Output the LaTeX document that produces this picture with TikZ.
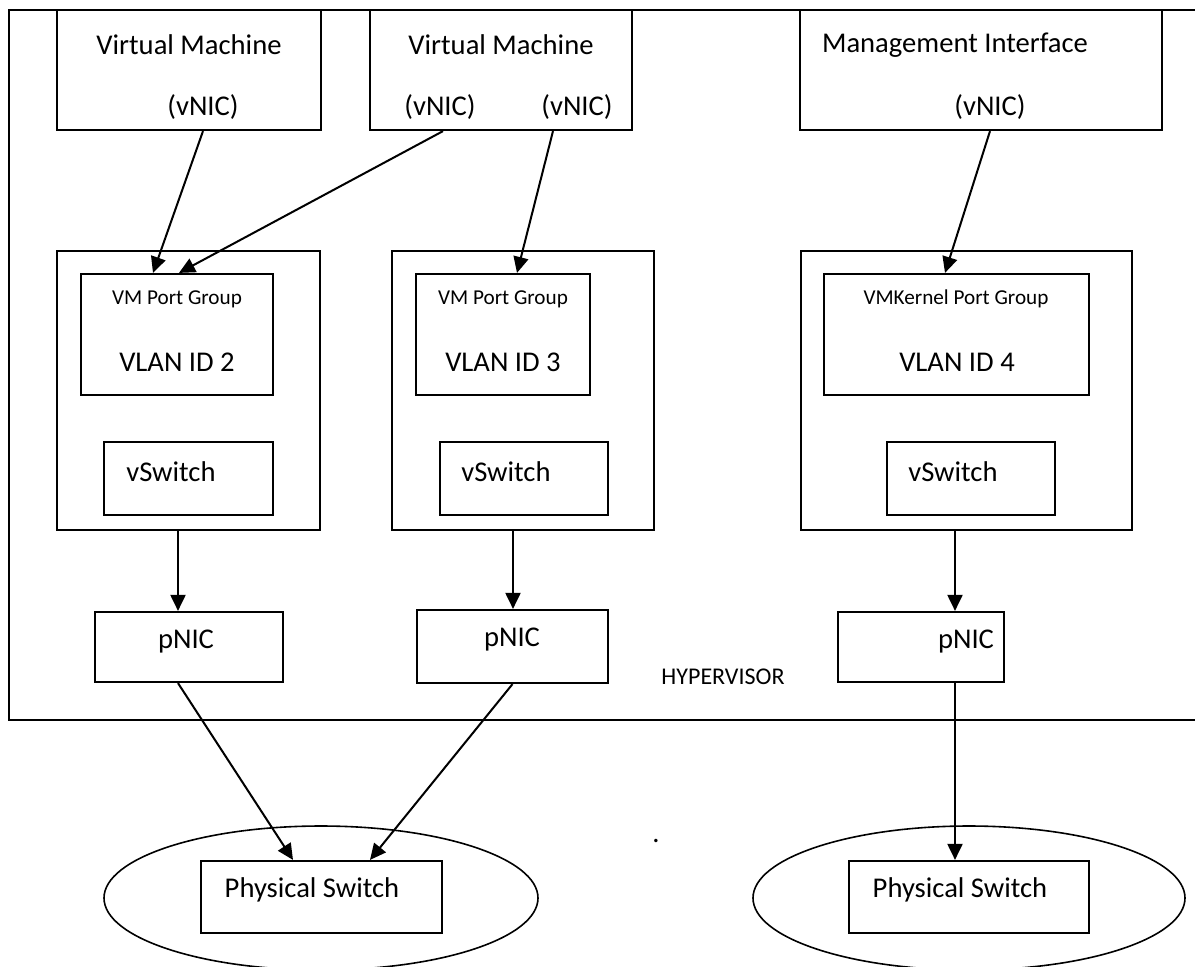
\documentclass[tikz,border=0pt]{standalone}
\usepackage{fontspec}
\setmainfont{Carlito}
\usetikzlibrary{arrows.meta,shapes.geometric}
\begin{document}
\begin{tikzpicture}[x=0.5pt,y=-0.5pt,
    box/.style={draw, line width=1.1pt, inner sep=0pt},
    txt/.style={inner sep=0pt, font=\fontsize{14.3}{17}\selectfont},
    small/.style={inner sep=0pt, font=\fontsize{10.6}{13}\selectfont},
    link/.style={line width=1pt, -{Triangle[length=8pt,width=7.5pt]}}
]
\useasboundingbox (0,0) rectangle (1195,966);

% hypervisor frame
\draw[line width=1.1pt] (1195,10) -- (9,10) -- (9,720) -- (1195,720);
\node[txt, font=\fontsize{12}{14}\selectfont] (hyp) at (723,677) {HYPERVISOR};

% virtual machines and management interface
\node[box, minimum width=132pt, minimum height=60pt] (vm1) at (189,70) {};
\node[txt] (vm1t) at (189,45) {Virtual Machine};
\node[txt] (vm1n) at (203,107) {(vNIC)};
\node[box, minimum width=131pt, minimum height=60pt] (vm2) at (501,70) {};
\node[txt] (vm2t) at (501,45) {Virtual Machine};
\node[txt] (vm2a) at (440,107) {(vNIC)};
\node[txt] (vm2b) at (577,107) {(vNIC)};
\node[box, minimum width=181pt, minimum height=60pt] (vm3) at (981,70) {};
\node[txt] (vm3t) at (955,45) {Management Interface};
\node[txt] (vm3n) at (990,107) {(vNIC)};

% port groups and vswitches
\node[box, minimum width=131.5pt, minimum height=139.5pt] (c1) at (188.5,390.5) {};
\node[box, minimum width=96pt, minimum height=60.5pt] (pg1) at (177,334.5) {};
\node[small] (pg1t) at (177,299) {VM Port Group};
\node[txt] (pg1v) at (177,362) {VLAN ID 2};
\node[box, minimum width=84.5pt, minimum height=36.5pt] (vs1) at (188.5,478.5) {};
\node[txt] (vs1t) at (171,472) {vSwitch};

\node[box, minimum width=131pt, minimum height=139.5pt] (c2) at (523,390.5) {};
\node[box, minimum width=87pt, minimum height=60.5pt] (pg2) at (503,334.5) {};
\node[small] (pg2t) at (503,299) {VM Port Group};
\node[txt] (pg2v) at (503,362) {VLAN ID 3};
\node[box, minimum width=84pt, minimum height=36.5pt] (vs2) at (524,478.5) {};
\node[txt] (vs2t) at (506,472) {vSwitch};

\node[box, minimum width=165.5pt, minimum height=139.5pt] (c3) at (966.5,390.5) {};
\node[box, minimum width=132.5pt, minimum height=60.5pt] (pg3) at (956.5,334.5) {};
\node[small] (pg3t) at (956,299) {VMKernel Port Group};
\node[txt] (pg3v) at (957,362) {VLAN ID 4};
\node[box, minimum width=84pt, minimum height=36.5pt] (vs3) at (971,478.5) {};
\node[txt] (vs3t) at (953,472) {vSwitch};

% physical nics
\node[box, minimum width=94pt, minimum height=35pt] (p1) at (189,647) {};
\node[txt] (p1t) at (186,642) {pNIC};
\node[box, minimum width=95.5pt, minimum height=36.5pt] (p2) at (512.5,646.5) {};
\node[txt] (p2t) at (512,640) {pNIC};
\node[box, minimum width=83pt, minimum height=35pt] (p3) at (921,647) {};
\node[txt] (p3t) at (966,642) {pNIC};

% physical switches
\node[draw, ellipse, line width=0.8pt, minimum width=217pt, minimum height=72pt] (e1) at (321,898) {};
\node[box, minimum width=120.5pt, minimum height=36pt] (sw1) at (321.5,897) {};
\node[txt] (sw1t) at (312,890) {Physical Switch};
\node[draw, ellipse, line width=0.8pt, minimum width=216pt, minimum height=72pt] (e2) at (969,898) {};
\node[box, minimum width=120pt, minimum height=36pt] (sw2) at (969,897) {};
\node[txt] (sw2t) at (960,890) {Physical Switch};
\node[txt, anchor=base] (dot) at (656,842) {.};

% connectors
\draw[link] (vm1n |- vm1.south) -- ([xshift=-12pt]pg1.north);
\draw[link] ([xshift=1.5pt]vm2a |- vm2.south) -- ([xshift=1pt]pg1.north);
\draw[link] ([xshift=-12pt]vm2b |- vm2.south) -- ([xshift=7pt]pg2.north);
\draw[link] (vm3n |- vm3.south) -- ([xshift=-5.75pt]pg3.north);
\draw[link] ([xshift=-5.25pt]c1.south) -- ([xshift=-5.25pt]c1.south |- p1.north);
\draw[link] ([xshift=-5pt]c2.south) -- ([xshift=-5pt]c2.south |- p2.north);
\draw[link] ([xshift=-5.75pt]c3.south) -- ([xshift=-5.75pt]c3.south |- p3.north);
\draw[link] ([xshift=-5.5pt]p1.south) -- ([xshift=-14.25pt]sw1.north);
\draw[link] (p2.south) -- ([xshift=24.25pt]sw1.north);
\draw[link] ([xshift=17pt]p3.south) -- ([xshift=-7pt]sw2.north);
\end{tikzpicture}
\end{document}
